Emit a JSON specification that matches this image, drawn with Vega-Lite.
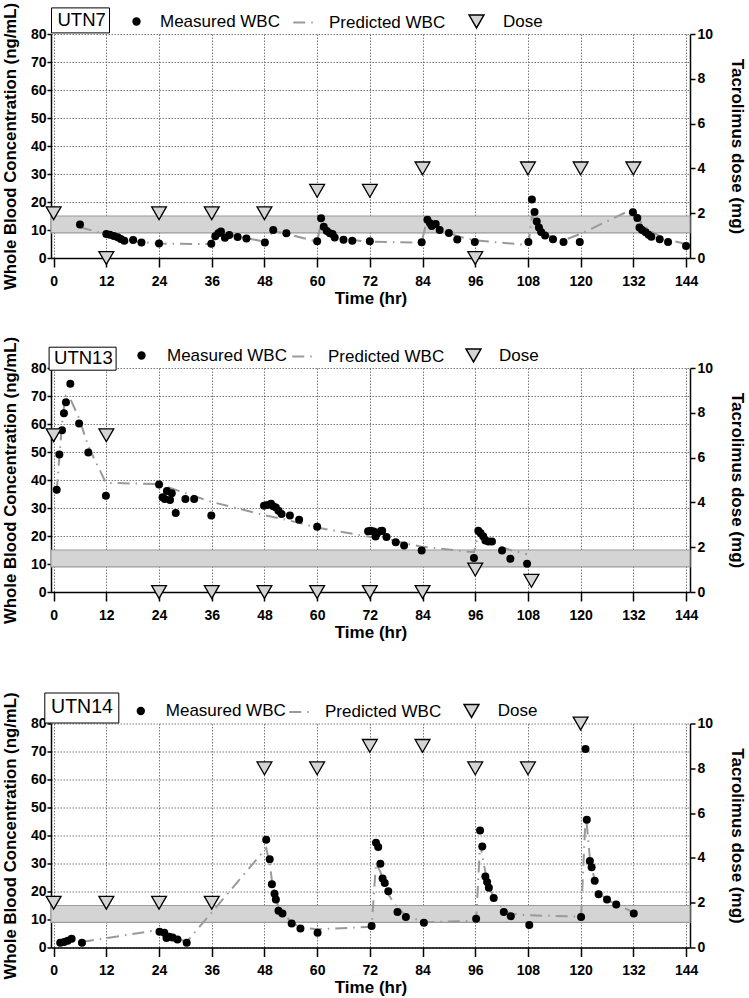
{
  "$schema": "https://vega.github.io/schema/vega-lite/v6.json",
  "padding": {"left": 2, "top": 2, "right": 0, "bottom": 0},
  "background": "white",
  "datasets": {
    "band": [{"lo": 9, "hi": 15}],
    "m7": [{"t":6,"wbc":12.0},{"t":12.0,"wbc":8.6},{"t":12.8,"wbc":8.3},{"t":13.7,"wbc":7.9},{"t":14.6,"wbc":7.4},{"t":15.3,"wbc":6.8},{"t":16.1,"wbc":6.2},{"t":18.1,"wbc":6.4},{"t":20.0,"wbc":5.5},{"t":24.0,"wbc":5.2},{"t":35.9,"wbc":5.1},{"t":36.8,"wbc":7.8},{"t":37.5,"wbc":8.8},{"t":38.1,"wbc":9.5},{"t":39.0,"wbc":7.2},{"t":40.0,"wbc":8.2},{"t":41.9,"wbc":7.5},{"t":43.9,"wbc":7.0},{"t":48.1,"wbc":5.5},{"t":50.0,"wbc":10.0},{"t":53.0,"wbc":8.8},{"t":60.0,"wbc":6.0},{"t":60.9,"wbc":14.2},{"t":61.5,"wbc":11.2},{"t":62.2,"wbc":9.6},{"t":62.9,"wbc":8.8},{"t":63.5,"wbc":8.6},{"t":64.0,"wbc":7.3},{"t":66.0,"wbc":6.5},{"t":68.0,"wbc":6.2},{"t":72.0,"wbc":6.0},{"t":83.8,"wbc":5.6},{"t":85.1,"wbc":13.7},{"t":85.7,"wbc":12.4},{"t":86.1,"wbc":11.4},{"t":87.0,"wbc":12.1},{"t":87.9,"wbc":10.0},{"t":90.0,"wbc":8.9},{"t":91.9,"wbc":6.6},{"t":95.9,"wbc":5.7},{"t":108.1,"wbc":5.7},{"t":108.9,"wbc":20.9},{"t":109.5,"wbc":16.4},{"t":110.0,"wbc":13.0},{"t":110.5,"wbc":10.9},{"t":111.0,"wbc":9.3},{"t":111.9,"wbc":8.0},{"t":113.7,"wbc":6.7},{"t":116.1,"wbc":5.7},{"t":119.8,"wbc":5.7},{"t":131.9,"wbc":16.3},{"t":132.9,"wbc":14.3},{"t":133.4,"wbc":10.9},{"t":134.0,"wbc":10.0},{"t":134.8,"wbc":9.2},{"t":135.5,"wbc":8.3},{"t":136.1,"wbc":7.6},{"t":138.0,"wbc":6.7},{"t":139.9,"wbc":5.7},{"t":144.0,"wbc":4.3}],
    "p7": [{"t":6,"pred":11.0},{"t":12.0,"pred":8.4},{"t":13.7,"pred":7.7},{"t":15.3,"pred":7.0},{"t":16.1,"pred":6.7},{"t":18.1,"pred":6.1},{"t":20.0,"pred":5.7},{"t":24.0,"pred":5.1},{"t":35.9,"pred":5.0},{"t":36.8,"pred":8.5},{"t":38.1,"pred":9.0},{"t":40.0,"pred":8.4},{"t":41.9,"pred":7.7},{"t":43.9,"pred":7.1},{"t":48.1,"pred":5.8},{"t":50.0,"pred":9.6},{"t":53.0,"pred":8.6},{"t":60.0,"pred":5.9},{"t":60.9,"pred":12.5},{"t":62.2,"pred":10.2},{"t":64.0,"pred":8.0},{"t":66.0,"pred":7.0},{"t":68.0,"pred":6.4},{"t":72.0,"pred":5.8},{"t":83.8,"pred":5.5},{"t":85.1,"pred":14.3},{"t":87.0,"pred":11.8},{"t":90.0,"pred":9.0},{"t":91.9,"pred":7.8},{"t":95.9,"pred":6.3},{"t":108.1,"pred":4.6},{"t":108.9,"pred":15.0},{"t":109.5,"pred":14.0},{"t":110.0,"pred":12.5},{"t":111.0,"pred":10.0},{"t":111.9,"pred":8.6},{"t":113.7,"pred":7.3},{"t":116.1,"pred":6.3},{"t":119.8,"pred":8.5},{"t":131.9,"pred":17.5},{"t":132.9,"pred":15.0},{"t":134.0,"pred":12.0},{"t":136.1,"pred":9.5},{"t":138.0,"pred":7.8},{"t":139.9,"pred":6.5},{"t":144.0,"pred":5.0}],
    "d7": [{"t":0,"dose":2},{"t":12,"dose":0},{"t":24,"dose":2},{"t":36,"dose":2},{"t":48,"dose":2},{"t":60,"dose":3},{"t":72,"dose":3},{"t":84,"dose":4},{"t":96,"dose":0},{"t":108,"dose":4},{"t":120,"dose":4},{"t":132,"dose":4}],
    "m13": [{"t":0.7,"wbc":36.5},{"t":1.3,"wbc":49.1},{"t":1.9,"wbc":57.8},{"t":2.35,"wbc":63.8},{"t":2.8,"wbc":67.8},{"t":3.8,"wbc":74.4},{"t":5.8,"wbc":60.2},{"t":7.9,"wbc":49.8},{"t":11.9,"wbc":34.4},{"t":24.0,"wbc":38.4},{"t":24.8,"wbc":33.8},{"t":25.3,"wbc":33.2},{"t":25.8,"wbc":36.1},{"t":26.5,"wbc":32.9},{"t":26.9,"wbc":35.3},{"t":27.8,"wbc":28.2},{"t":30.0,"wbc":33.2},{"t":32.0,"wbc":33.2},{"t":35.9,"wbc":27.3},{"t":47.9,"wbc":30.8},{"t":48.7,"wbc":31.1},{"t":49.5,"wbc":31.5},{"t":50.0,"wbc":30.6},{"t":50.6,"wbc":30.2},{"t":51.2,"wbc":29.0},{"t":51.9,"wbc":27.9},{"t":53.8,"wbc":27.3},{"t":55.9,"wbc":25.8},{"t":60.0,"wbc":23.3},{"t":71.6,"wbc":21.7},{"t":72.2,"wbc":21.9},{"t":72.9,"wbc":21.6},{"t":73.3,"wbc":19.8},{"t":73.7,"wbc":21.1},{"t":74.5,"wbc":21.8},{"t":74.8,"wbc":21.9},{"t":75.8,"wbc":19.6},{"t":77.9,"wbc":17.8},{"t":79.8,"wbc":16.6},{"t":83.8,"wbc":14.8},{"t":95.7,"wbc":12.1},{"t":96.7,"wbc":21.9},{"t":97.2,"wbc":21.1},{"t":97.8,"wbc":19.9},{"t":98.3,"wbc":18.4},{"t":99.0,"wbc":18.0},{"t":99.8,"wbc":18.0},{"t":102.1,"wbc":14.8},{"t":104.0,"wbc":11.9},{"t":107.8,"wbc":10.1}],
    "p13": [{"t":0.7,"pred":36},{"t":1.3,"pred":48},{"t":1.9,"pred":60},{"t":2.35,"pred":66},{"t":2.8,"pred":70},{"t":3.8,"pred":69},{"t":5.8,"pred":62},{"t":7.9,"pred":52},{"t":11.9,"pred":39},{"t":24.0,"pred":38.5},{"t":35.9,"pred":32.2},{"t":47.9,"pred":27.5},{"t":53.8,"pred":25.5},{"t":60.0,"pred":23.0},{"t":71.6,"pred":19.8},{"t":75.8,"pred":19.0},{"t":79.8,"pred":17.5},{"t":83.8,"pred":16.2},{"t":95.7,"pred":14.2},{"t":96.7,"pred":20.5},{"t":98.3,"pred":19.5},{"t":102.1,"pred":16.0},{"t":104.0,"pred":15.0},{"t":107.8,"pred":13.5}],
    "d13": [{"t":0,"dose":7},{"t":12,"dose":7},{"t":24,"dose":0},{"t":36,"dose":0},{"t":48,"dose":0},{"t":60,"dose":0},{"t":72,"dose":0},{"t":84,"dose":0},{"t":96,"dose":1},{"t":108.8,"dose":0.5}],
    "m14": [{"t":1.5,"wbc":1.7},{"t":2.4,"wbc":2.0},{"t":3.2,"wbc":2.4},{"t":4.1,"wbc":3.1},{"t":6.45,"wbc":1.7},{"t":24.1,"wbc":5.6},{"t":25.2,"wbc":5.3},{"t":25.7,"wbc":3.4},{"t":26.3,"wbc":3.8},{"t":27.1,"wbc":3.6},{"t":28.2,"wbc":2.9},{"t":30.3,"wbc":1.7},{"t":48.4,"wbc":38.5},{"t":49.2,"wbc":31.5},{"t":49.7,"wbc":22.6},{"t":50.3,"wbc":19.2},{"t":50.6,"wbc":17.1},{"t":51.2,"wbc":13.1},{"t":52.1,"wbc":12.1},{"t":54.2,"wbc":8.6},{"t":56.2,"wbc":6.8},{"t":60.1,"wbc":5.3},{"t":72.4,"wbc":7.7},{"t":73.4,"wbc":37.4},{"t":73.9,"wbc":35.9},{"t":74.4,"wbc":29.9},{"t":74.9,"wbc":24.6},{"t":75.4,"wbc":23.0},{"t":76.2,"wbc":20.1},{"t":78.3,"wbc":12.7},{"t":80.2,"wbc":10.9},{"t":84.3,"wbc":8.8},{"t":96.2,"wbc":10.3},{"t":97.1,"wbc":41.8},{"t":97.6,"wbc":36.1},{"t":98.3,"wbc":25.4},{"t":98.7,"wbc":23.4},{"t":99.1,"wbc":21.3},{"t":100.2,"wbc":17.7},{"t":102.5,"wbc":12.7},{"t":104.1,"wbc":11.2},{"t":108.3,"wbc":8.0},{"t":120.1,"wbc":10.9},{"t":121.1,"wbc":70.9},{"t":121.4,"wbc":45.6},{"t":122.1,"wbc":30.9},{"t":122.5,"wbc":28.7},{"t":123.2,"wbc":23.8},{"t":124.1,"wbc":19.0},{"t":126.0,"wbc":17.1},{"t":128.1,"wbc":15.4},{"t":132.1,"wbc":12.1}],
    "p14": [{"t":6.45,"pred":2.0},{"t":24.1,"pred":6.3},{"t":25.2,"pred":5.5},{"t":27.1,"pred":4.0},{"t":28.2,"pred":3.2},{"t":30.3,"pred":2.0},{"t":48.4,"pred":35.5},{"t":49.2,"pred":30},{"t":49.7,"pred":24},{"t":50.3,"pred":20},{"t":51.2,"pred":14},{"t":52.1,"pred":12.5},{"t":54.2,"pred":9},{"t":56.2,"pred":7.2},{"t":60.1,"pred":6.5},{"t":72.4,"pred":7.4},{"t":73.4,"pred":30},{"t":74.4,"pred":27},{"t":75.4,"pred":22},{"t":76.2,"pred":19},{"t":78.3,"pred":14},{"t":80.2,"pred":11.5},{"t":84.3,"pred":9},{"t":96.2,"pred":9.6},{"t":97.1,"pred":37},{"t":97.6,"pred":33},{"t":98.3,"pred":27},{"t":99.1,"pred":22},{"t":100.2,"pred":18},{"t":102.5,"pred":13.5},{"t":104.1,"pred":12},{"t":108.3,"pred":11.5},{"t":120.1,"pred":11},{"t":121.1,"pred":46},{"t":121.4,"pred":44},{"t":122.1,"pred":32},{"t":122.5,"pred":29},{"t":123.2,"pred":24},{"t":124.1,"pred":20},{"t":126.0,"pred":17},{"t":128.1,"pred":15.4},{"t":132.1,"pred":12.5}],
    "d14": [{"t":0,"dose":2},{"t":12,"dose":2},{"t":24,"dose":2},{"t":36,"dose":2},{"t":48,"dose":8},{"t":60,"dose":8},{"t":72,"dose":9},{"t":84,"dose":9},{"t":96,"dose":8},{"t":108,"dose":8},{"t":120,"dose":10}]
  },
  "vconcat": [
    {
      "spacing": 30,
      "resolve": {"scale": {"color": "independent", "fill": "independent", "strokeDash": "independent", "shape": "independent"}},
      "vconcat": [
        {
          "width": 639, "height": 224,
          "resolve": {"scale": {"y": "independent"}},
          "layer": [
            {
              "layer": [
                {"data": {"name": "band"}, "mark": {"type": "rect", "stroke": "#9a9a9a", "strokeWidth": 1.2},
                 "encoding": {"y": {"field": "lo", "type": "quantitative", "title": "Whole Blood Concentration (ng/mL)", "scale": {"domain": [0, 80], "nice": false}, "axis": {"orient": "left", "values": [0,10,20,30,40,50,60,70,80], "grid": true}}, "y2": {"field": "hi"},
                   "color": {"datum": "UTN7", "scale": {"range": ["#d4d4d4"]}, "legend": {"title": null, "orient": "none", "legendX": 0, "legendY": -26.6, "symbolSize": 0, "symbolOpacity": 0, "symbolStrokeWidth": 0, "labelFontSize": 18.5, "labelOffset": -15, "padding": 3, "strokeColor": "black", "fillColor": "white"}}}},
                {"data": {"name": "p7"}, "mark": {"type": "line", "color": "#9a9a9a", "strokeWidth": 2},
                 "encoding": {"x": {"field": "t", "type": "quantitative", "title": "Time (hr)", "scale": {"domain": [-0.6, 144.9], "nice": false, "zero": false}, "axis": {"values": [0,12,24,36,48,60,72,84,96,108,120,132,144], "grid": true}},
                   "y": {"field": "pred", "type": "quantitative", "title": "Whole Blood Concentration (ng/mL)", "scale": {"domain": [0, 80], "nice": false}, "axis": {"orient": "left", "values": [0,10,20,30,40,50,60,70,80], "grid": true}},
                   "strokeDash": {"datum": "Predicted WBC", "scale": {"range": [[12, 6, 1.5, 6]]}, "legend": {"title": null, "orient": "none", "legendX": 241, "legendY": -25, "symbolType": "stroke", "symbolSize": 600, "symbolStrokeColor": "#9a9a9a", "symbolStrokeWidth": 2, "labelOffset": 10, "padding": 0}}}},
                {"data": {"name": "m7"}, "mark": {"type": "point", "filled": true, "size": 64, "opacity": 1},
                 "encoding": {"x": {"field": "t", "type": "quantitative", "title": "Time (hr)", "scale": {"domain": [-0.6, 144.9], "nice": false, "zero": false}, "axis": {"values": [0,12,24,36,48,60,72,84,96,108,120,132,144], "grid": true}},
                   "y": {"field": "wbc", "type": "quantitative", "title": "Whole Blood Concentration (ng/mL)", "scale": {"domain": [0, 80], "nice": false}, "axis": {"orient": "left", "values": [0,10,20,30,40,50,60,70,80], "grid": true}},
                   "fill": {"datum": "Measured WBC", "scale": {"range": ["black"]}, "legend": {"title": null, "orient": "none", "legendX": 77, "legendY": -21, "symbolSize": 70, "symbolType": "circle", "symbolStrokeWidth": 0, "labelOffset": 15, "padding": 0}}}}
              ]
            },
            {"data": {"name": "d7"}, "mark": {"type": "point", "filled": true, "fill": "#d4d4d4", "stroke": "black", "strokeWidth": 1.3, "size": 220, "opacity": 1},
             "encoding": {"x": {"field": "t", "type": "quantitative", "title": "Time (hr)", "scale": {"domain": [-0.6, 144.9], "nice": false, "zero": false}, "axis": {"values": [0,12,24,36,48,60,72,84,96,108,120,132,144], "grid": true}},
               "y": {"field": "dose", "type": "quantitative", "title": "Tacrolimus dose (mg)", "scale": {"domain": [0, 10], "nice": false}, "axis": {"orient": "right", "values": [0,2,4,6,8,10], "grid": false}},
               "shape": {"datum": "Dose", "scale": {"range": ["triangle-down"]}, "legend": {"title": null, "orient": "none", "legendX": 417, "legendY": -21, "symbolSize": 220, "labelOffset": 18, "padding": 0, "encode": {"symbols": {"update": {"fill": {"value": "#d4d4d4"}, "stroke": {"value": "black"}, "strokeWidth": {"value": 1.3}, "opacity": {"value": 1}}}}}}}}
          ]
        },
        {
          "width": 639, "height": 224,
          "resolve": {"scale": {"y": "independent"}},
          "layer": [
            {
              "layer": [
                {"data": {"name": "band"}, "mark": {"type": "rect", "stroke": "#9a9a9a", "strokeWidth": 1.2},
                 "encoding": {"y": {"field": "lo", "type": "quantitative", "title": "Whole Blood Concentration (ng/mL)", "scale": {"domain": [0, 80], "nice": false}, "axis": {"orient": "left", "values": [0,10,20,30,40,50,60,70,80], "grid": true}}, "y2": {"field": "hi"},
                   "color": {"datum": "UTN13", "scale": {"range": ["#d4d4d4"]}, "legend": {"title": null, "orient": "none", "legendX": -2.4, "legendY": -21.3, "symbolSize": 0, "symbolOpacity": 0, "symbolStrokeWidth": 0, "labelFontSize": 18.5, "labelOffset": -15, "padding": 2, "strokeColor": "black", "fillColor": "white"}}}},
                {"data": {"name": "p13"}, "mark": {"type": "line", "color": "#9a9a9a", "strokeWidth": 2},
                 "encoding": {"x": {"field": "t", "type": "quantitative", "title": "Time (hr)", "scale": {"domain": [-0.6, 144.9], "nice": false, "zero": false}, "axis": {"values": [0,12,24,36,48,60,72,84,96,108,120,132,144], "grid": true}},
                   "y": {"field": "pred", "type": "quantitative", "title": "Whole Blood Concentration (ng/mL)", "scale": {"domain": [0, 80], "nice": false}, "axis": {"orient": "left", "values": [0,10,20,30,40,50,60,70,80], "grid": true}},
                   "strokeDash": {"datum": "Predicted WBC", "scale": {"range": [[12, 6, 1.5, 6]]}, "legend": {"title": null, "orient": "none", "legendX": 240, "legendY": -25, "symbolType": "stroke", "symbolSize": 600, "symbolStrokeColor": "#9a9a9a", "symbolStrokeWidth": 2, "labelOffset": 10, "padding": 0}}}},
                {"data": {"name": "m13"}, "mark": {"type": "point", "filled": true, "size": 64, "opacity": 1},
                 "encoding": {"x": {"field": "t", "type": "quantitative", "title": "Time (hr)", "scale": {"domain": [-0.6, 144.9], "nice": false, "zero": false}, "axis": {"values": [0,12,24,36,48,60,72,84,96,108,120,132,144], "grid": true}},
                   "y": {"field": "wbc", "type": "quantitative", "title": "Whole Blood Concentration (ng/mL)", "scale": {"domain": [0, 80], "nice": false}, "axis": {"orient": "left", "values": [0,10,20,30,40,50,60,70,80], "grid": true}},
                   "fill": {"datum": "Measured WBC", "scale": {"range": ["black"]}, "legend": {"title": null, "orient": "none", "legendX": 82, "legendY": -21, "symbolSize": 70, "symbolType": "circle", "symbolStrokeWidth": 0, "labelOffset": 17, "padding": 0}}}}
              ]
            },
            {"data": {"name": "d13"}, "mark": {"type": "point", "filled": true, "fill": "#d4d4d4", "stroke": "black", "strokeWidth": 1.3, "size": 220, "opacity": 1},
             "encoding": {"x": {"field": "t", "type": "quantitative", "title": "Time (hr)", "scale": {"domain": [-0.6, 144.9], "nice": false, "zero": false}, "axis": {"values": [0,12,24,36,48,60,72,84,96,108,120,132,144], "grid": true}},
               "y": {"field": "dose", "type": "quantitative", "title": "Tacrolimus dose (mg)", "scale": {"domain": [0, 10], "nice": false}, "axis": {"orient": "right", "values": [0,2,4,6,8,10], "grid": false}},
               "shape": {"datum": "Dose", "scale": {"range": ["triangle-down"]}, "legend": {"title": null, "orient": "none", "legendX": 414, "legendY": -21, "symbolSize": 220, "labelOffset": 17, "padding": 0, "encode": {"symbols": {"update": {"fill": {"value": "#d4d4d4"}, "stroke": {"value": "black"}, "strokeWidth": {"value": 1.3}, "opacity": {"value": 1}}}}}}}}
          ]
        }
      ]
    },
    {
      "width": 639, "height": 224,
      "resolve": {"scale": {"y": "independent"}},
      "layer": [
        {
          "layer": [
            {"data": {"name": "band"}, "mark": {"type": "rect", "stroke": "#9a9a9a", "strokeWidth": 1.2},
             "encoding": {"y": {"field": "lo", "type": "quantitative", "title": "Whole Blood Concentration (ng/mL)", "scale": {"domain": [0, 80], "nice": false}, "axis": {"orient": "left", "values": [0,10,20,30,40,50,60,70,80], "grid": true}}, "y2": {"field": "hi"},
               "color": {"datum": "UTN14", "scale": {"range": ["#d4d4d4"]}, "legend": {"title": null, "orient": "none", "legendX": -6.7, "legendY": -31, "symbolSize": 0, "symbolOpacity": 0, "symbolStrokeWidth": 0, "labelFontSize": 19.5, "labelOffset": -17.7, "padding": 5, "strokeColor": "black", "fillColor": "white"}}}},
            {"data": {"name": "p14"}, "mark": {"type": "line", "color": "#9a9a9a", "strokeWidth": 2},
             "encoding": {"x": {"field": "t", "type": "quantitative", "title": "Time (hr)", "scale": {"domain": [-0.6, 144.9], "nice": false, "zero": false}, "axis": {"values": [0,12,24,36,48,60,72,84,96,108,120,132,144], "grid": true}},
               "y": {"field": "pred", "type": "quantitative", "title": "Whole Blood Concentration (ng/mL)", "scale": {"domain": [0, 80], "nice": false}, "axis": {"orient": "left", "values": [0,10,20,30,40,50,60,70,80], "grid": true}},
               "strokeDash": {"datum": "Predicted WBC", "scale": {"range": [[12, 6, 1.5, 6]]}, "legend": {"title": null, "orient": "none", "legendX": 237, "legendY": -25, "symbolType": "stroke", "symbolSize": 600, "symbolStrokeColor": "#9a9a9a", "symbolStrokeWidth": 2, "labelOffset": 10, "padding": 0}}}},
            {"data": {"name": "m14"}, "mark": {"type": "point", "filled": true, "size": 64, "opacity": 1},
             "encoding": {"x": {"field": "t", "type": "quantitative", "title": "Time (hr)", "scale": {"domain": [-0.6, 144.9], "nice": false, "zero": false}, "axis": {"values": [0,12,24,36,48,60,72,84,96,108,120,132,144], "grid": true}},
               "y": {"field": "wbc", "type": "quantitative", "title": "Whole Blood Concentration (ng/mL)", "scale": {"domain": [0, 80], "nice": false}, "axis": {"orient": "left", "values": [0,10,20,30,40,50,60,70,80], "grid": true}},
               "fill": {"datum": "Measured WBC", "scale": {"range": ["black"]}, "legend": {"title": null, "orient": "none", "legendX": 81.3, "legendY": -21, "symbolSize": 70, "symbolType": "circle", "symbolStrokeWidth": 0, "labelOffset": 16.5, "padding": 0}}}}
          ]
        },
        {"data": {"name": "d14"}, "mark": {"type": "point", "filled": true, "fill": "#d4d4d4", "stroke": "black", "strokeWidth": 1.3, "size": 220, "opacity": 1},
         "encoding": {"x": {"field": "t", "type": "quantitative", "title": "Time (hr)", "scale": {"domain": [-0.6, 144.9], "nice": false, "zero": false}, "axis": {"values": [0,12,24,36,48,60,72,84,96,108,120,132,144], "grid": true}},
           "y": {"field": "dose", "type": "quantitative", "title": "Tacrolimus dose (mg)", "scale": {"domain": [0, 10], "nice": false}, "axis": {"orient": "right", "values": [0,2,4,6,8,10], "grid": false}},
           "shape": {"datum": "Dose", "scale": {"range": ["triangle-down"]}, "legend": {"title": null, "orient": "none", "legendX": 412, "legendY": -21, "symbolSize": 220, "labelOffset": 17.7, "padding": 0, "encode": {"symbols": {"update": {"fill": {"value": "#d4d4d4"}, "stroke": {"value": "black"}, "strokeWidth": {"value": 1.3}, "opacity": {"value": 1}}}}}}}}
      ]
    }
  ],
  "spacing": 51.5,
  "resolve": {"scale": {"color": "independent", "fill": "independent", "strokeDash": "independent", "shape": "independent"}},
  "config": {
    "font": "Liberation Sans",
    "view": {"stroke": null},
    "axis": {"labelFont": "Liberation Sans", "labelFontSize": 14, "labelFontWeight": "bold", "labelColor": "black", "titleFont": "Liberation Sans", "titleFontSize": 17, "titleFontWeight": "bold", "titleColor": "black", "domainColor": "black", "domainWidth": 1.5, "tickColor": "black", "tickWidth": 1.5, "gridColor": "#555", "gridDash": [1.5, 1.5], "gridWidth": 0.8, "gridOpacity": 1, "labelFlush": false, "labelOverlap": false},
    "axisBottom": {"tickSize": 9, "labelPadding": 7, "titlePadding": 2},
    "axisLeft": {"tickSize": 4, "labelPadding": 1, "titlePadding": 11, "titleFontSize": 16.8},
    "axisRight": {"tickSize": 5, "labelPadding": 2, "titlePadding": 15},
    "legend": {"labelFont": "Liberation Sans", "labelFontSize": 17, "labelColor": "black", "labelLimit": 300}
  }
}
